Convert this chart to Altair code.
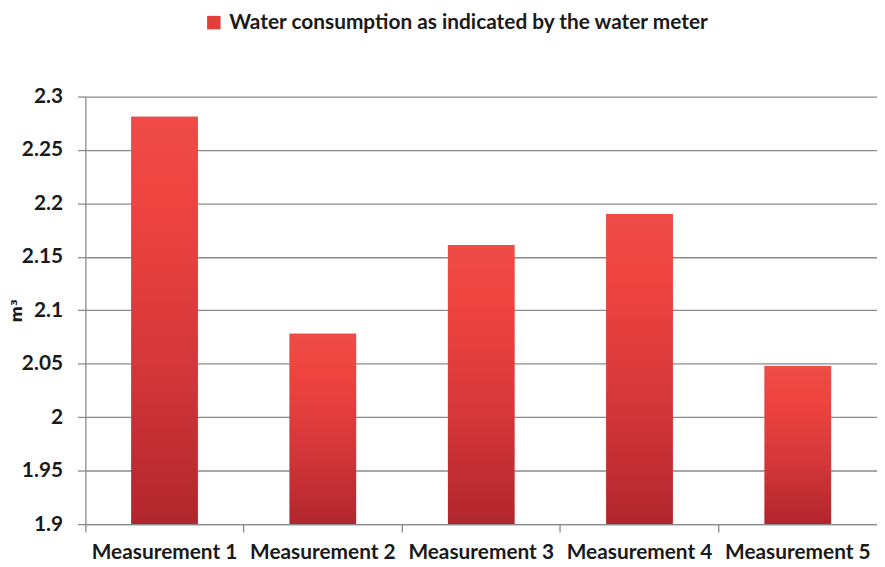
import altair as alt
import pandas as pd

categories = ["Measurement 1", "Measurement 2", "Measurement 3", "Measurement 4", "Measurement 5"]
values = [2.281, 2.078, 2.161, 2.19, 2.048]
series_name = "Water consumption as indicated by the water meter"
y_ticks = [1.9, 1.95, 2.0, 2.05, 2.1, 2.15, 2.2, 2.25, 2.3]

df = pd.DataFrame({"Measurement": categories, "value": values, "series": [series_name] * len(categories)})

FONT = "Lato"
FS = 21
TXT = "#1a1a1a"
GRID = "#8a8a8a"
W = 798
H = 431

gradient = {
    "gradient": "linear",
    "x1": 0, "y1": 0, "x2": 0, "y2": 1,
    "stops": [
        {"offset": 0, "color": "#ee4c47"},
        {"offset": 0.2, "color": "#ef4440"},
        {"offset": 0.6, "color": "#d5373a"},
        {"offset": 1, "color": "#b1262d"},
    ],
}

x_enc = alt.X(
    "Measurement:N",
    sort=categories,
    scale=alt.Scale(paddingInner=0, paddingOuter=0),
    axis=alt.Axis(
        title=None, labelAngle=0, bandPosition=0,
        ticks=True, tickSize=8, tickColor=GRID, tickWidth=1.3,
        domainColor=GRID, domainWidth=1.3,
        labelFont=FONT, labelFontSize=FS, labelFontWeight="bold", labelColor=TXT,
        labelPadding=10, grid=False,
    ),
)
y_enc = alt.Y(
    "value:Q",
    scale=alt.Scale(domain=[1.9, 2.3], zero=False, nice=False),
    axis=alt.Axis(
        values=y_ticks, format=".2~f", title="m³",
        titleFont="DejaVu Sans", titleFontSize=16, titleFontWeight="bold", titleColor=TXT,
        titleAngle=-90, titleAlign="center", titleBaseline="alphabetic",
        titleX=-64, titleY=H / 2,
        grid=True, gridColor=GRID, gridWidth=1.3,
        ticks=True, tickSize=8, tickColor=GRID, tickWidth=1.3,
        domainColor=GRID, domainWidth=1.3,
        labelFont=FONT, labelFontSize=FS, labelFontWeight="bold", labelColor=TXT,
        labelPadding=15,
    ),
)

base = alt.Chart(df)

legend_bars = base.mark_bar(width=alt.RelativeBandSize(0.42)).encode(
    x=x_enc,
    y=y_enc,
    y2=alt.datum(1.9),
    color=alt.Color(
        "series:N",
        scale=alt.Scale(range=["#e2403c"]),
        legend=alt.Legend(
            title=None, orient="none", legendX=119, legendY=-85,
            symbolType="square", symbolSize=185, symbolStrokeWidth=0,
            labelFont=FONT, labelFontSize=FS, labelFontWeight="bold", labelColor=TXT,
            labelOffset=5, padding=0, labelLimit=800,
        ),
    ),
)

grad_bars = base.mark_bar(width=alt.RelativeBandSize(0.42), color=gradient).encode(
    x=x_enc,
    y=y_enc,
    y2=alt.datum(1.9),
)

chart = (
    alt.layer(legend_bars, grad_bars)
    .properties(
        width=W, height=H,
        autosize=alt.AutoSizeParams(type="none"),
        padding={"left": 78, "top": 87, "right": 0, "bottom": 40},
        background="white",
    )
    .configure_view(stroke=None)
)

chart.save("out.html", embed_options={"renderer": "svg", "actions": False})
